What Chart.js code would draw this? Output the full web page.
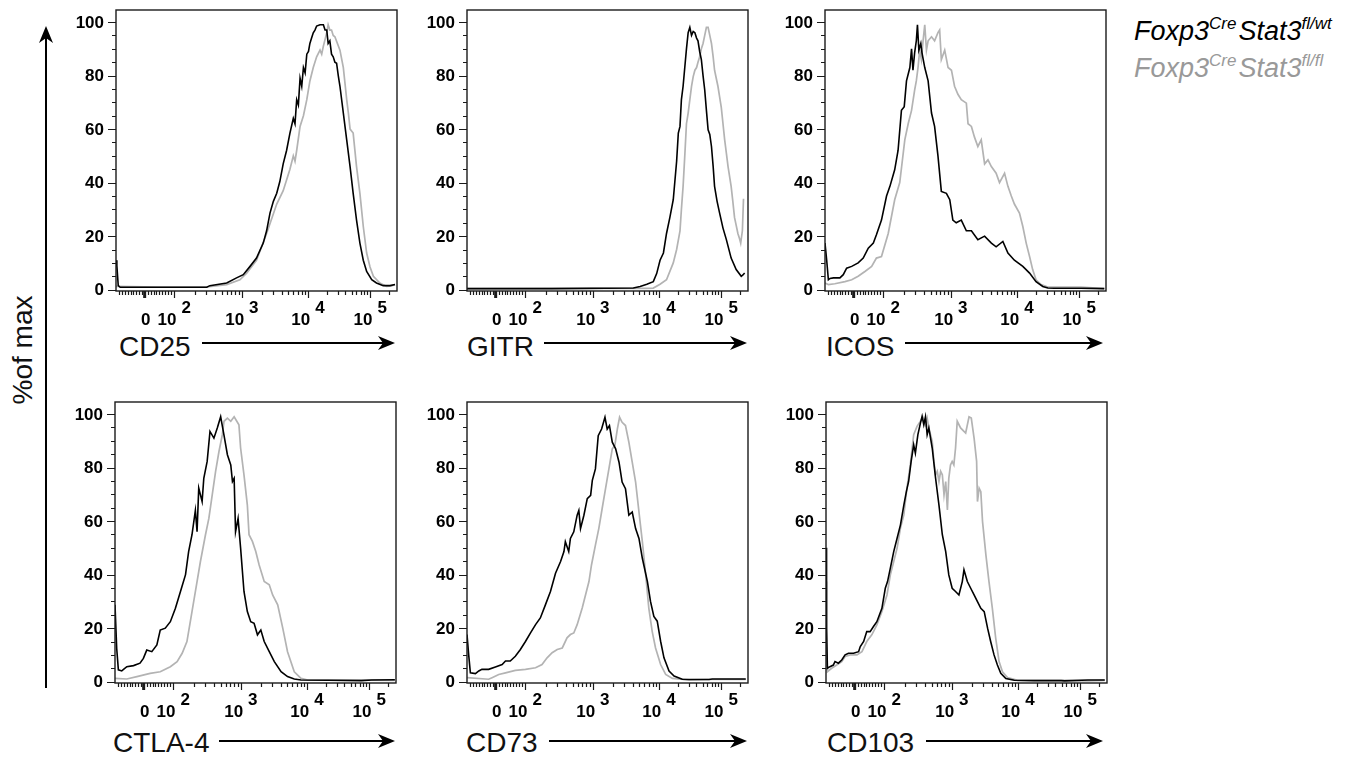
<!DOCTYPE html>
<html>
<head>
<meta charset="utf-8">
<script src="https://cdn.jsdelivr.net/npm/chart.js@4.4.1/dist/chart.umd.min.js"></script>
<style>
  body { margin: 0; background: #fff; width: 1365px; height: 760px; overflow: hidden; position: relative; font-family: "Liberation Sans", Arial, sans-serif; }
  canvas { position: absolute; }
  #overlay { position: absolute; left: 0; top: 0; pointer-events: none; }
</style>
</head>
<body>
<svg id="overlay" width="1365" height="760" xmlns="http://www.w3.org/2000/svg"></svg>
<script>
// x values are display channels (0-1000 across the logicle axis), y is % of max
const markers = ['CD25', 'GITR', 'ICOS', 'CTLA-4', 'CD73', 'CD103'];
const seriesNames = ['Foxp3Cre Stat3fl/wt', 'Foxp3Cre Stat3fl/fl'];
const yTicks = [0, 20, 40, 60, 80, 100];
const xTickChannels = [102, 207, 448, 683, 905];
const xTickBase = ['0', '10', '10', '10', '10'];
const xTickExp = ['', '2', '3', '4', '5'];

const cd25Wt = [[0,11],[3,9],[8,1.5],[15,0.9],[150,0.9],[323,0.9],[334,1.5],[394,2.5],[429,4.4],[453,5.6],[477,8.7],[500,11.8],[524,17.4],[536,22],[548,28.6],[560,33],[572,36],[583,40.4],[595,47],[607,52],[619,58.5],[631,64],[637,62],[643,71],[649,69],[655,79],[661,76],[667,83],[673,81],[679,88],[685,89],[690,92],[696,94],[702,96],[708,97],[714,98.5],[726,99],[738,99],[744,97],[750,97],[755,92],[761,93],[767,88],[773,87],[779,85],[785,84.6],[791,80],[797,76],[809,66],[821,56],[833,46],[844,36],[856,26],[868,17.4],[880,11],[892,6.8],[910,3.7],[927,2.5],[951,1.5],[975,1.5],[993,1.9]];
const cd25Fl = [[0,1.2],[150,1],[323,1],[394,1.9],[441,3.7],[465,6.2],[500,11],[536,21],[572,32],[595,37],[619,45],[631,50],[637,48],[643,52],[655,61],[667,65],[679,71],[690,78],[702,83],[714,87],[726,89.5],[732,88],[738,91],[750,96],[755,99],[761,97],[767,97],[773,95],[779,94.5],[797,89.5],[809,83],[821,71],[827,66],[833,60],[844,58.5],[856,46],[868,36],[880,23.6],[892,13.7],[904,8.5],[916,5],[939,2.5],[963,1.2],[980,1.4],[993,1.9]];

const gitrWt = [[0,0.4],[300,0.4],[592,0.6],[616,1.2],[640,2],[663,3],[675,6],[687,11],[699,13.7],[710,21],[722,27],[734,33.6],[746,48],[752,58.5],[758,61],[763,71],[769,76],[775,83],[781,90],[787,96],[793,98],[799,95],[805,96.5],[811,96],[817,94],[822,93],[828,89],[834,86],[840,80],[846,74.6],[852,67],[858,59.7],[864,58],[870,53.5],[876,46],[881,38.6],[890,33],[899,28.6],[911,23],[923,18.7],[940,11.8],[958,7.5],[976,5],[982,5.5],[988,6.2]];
const gitrFl = [[0,0.4],[345,0.5],[640,0.5],[663,0.6],[687,2],[710,3.7],[734,10],[746,15],[758,22],[763,30],[769,38.6],[775,50],[781,62],[787,66],[793,71],[799,76],[805,79.6],[811,82],[817,83],[822,85],[828,87],[834,90],[840,92],[846,95],[852,98],[858,98],[864,95],[870,92],[876,87],[881,82],[887,79],[893,76],[899,72],[905,68],[911,62],[917,56],[923,51],[929,46],[935,42],[940,38.6],[946,33],[952,27],[958,24],[964,21],[970,19],[974,17.4],[980,22],[984,34]];

const icosWt = [[0,17.4],[6,11],[12,3.7],[18,4.2],[30,4.4],[53,4.4],[65,5.6],[77,8],[95,8.7],[118,10],[136,11.8],[154,15.5],[172,17.4],[183,20.5],[201,26],[219,35],[231,38.6],[248,44.8],[260,52],[272,67],[282,68.4],[290,78],[302,83],[308,90],[313,82],[319,88.6],[325,93],[329,99],[334,89.5],[341,92],[345,88.6],[355,83],[367,78],[379,66],[390,61],[402,50],[414,36.7],[432,36],[444,33.6],[455,26],[467,25],[485,26],[503,22],[521,22],[544,18.7],[568,20],[592,17.4],[609,16],[633,18],[651,13.7],[674,11],[704,8.7],[728,6.2],[751,3],[775,1.2],[793,0.6],[816,0.5],[911,0.5],[994,0.4]];
const icosFl = [[0,2.5],[12,1.9],[35,2.2],[71,3],[95,3.7],[118,5],[142,6.8],[166,8.7],[183,11.8],[201,12.4],[225,21],[248,33.6],[266,40],[284,56],[296,62],[308,67],[319,74.6],[325,78],[331,83],[337,89.5],[343,86],[349,93],[355,99],[361,89.5],[367,93],[379,94.5],[390,93],[402,96],[408,97],[414,86],[426,89.5],[438,83],[450,82],[461,76],[473,73],[485,71],[503,69.7],[509,62],[521,61],[532,57],[544,53.5],[556,56],[568,47],[580,48.5],[592,46],[609,43.5],[621,40],[639,43.5],[651,38.6],[663,35],[674,32],[692,28.6],[704,23.6],[716,17.4],[728,12.4],[739,7.5],[751,3.7],[769,1.9],[793,1],[852,1],[911,1],[994,0.4]];

const ctla4Wt = [[0,28.7],[6,12.5],[12,4.4],[24,4],[42,5.6],[66,6],[89,6.9],[101,8.7],[113,11.8],[131,11.2],[149,13.7],[161,19.3],[179,20],[197,22.4],[215,27.4],[233,33.7],[251,40],[262,48.6],[274,54.9],[286,64],[292,56],[298,72.3],[310,67.3],[316,76],[328,82.3],[338,93.5],[352,91],[364,94.8],[376,99],[388,92],[400,84.8],[412,81],[418,74.8],[424,76],[429,56],[438,61],[447,49.9],[459,33.7],[471,26.2],[483,22.4],[495,21.8],[507,17.5],[519,19.3],[531,15],[549,11.2],[567,7.5],[591,3.7],[614,1.9],[638,1],[662,0.6],[758,0.5],[877,0.4],[913,0.6],[996,0.7]];
const ctla4Fl = [[0,1.2],[42,1],[78,1.9],[125,3.1],[161,3.7],[197,5.6],[221,7.5],[239,10.6],[256,15],[274,26.2],[292,37.4],[304,44.9],[322,54.9],[334,61],[346,69.8],[358,78.6],[370,86],[382,92.3],[388,97.3],[400,98.5],[412,97.3],[424,99],[441,96],[447,87.3],[459,77.3],[471,66],[477,54.9],[489,52.4],[501,48.6],[513,43.6],[531,37.4],[549,36.2],[561,32.4],[579,28.7],[597,20],[614,11.2],[638,3.7],[662,1.2],[686,0.6],[758,0.6],[877,0.6],[996,0.5]];

const cd73Wt = [[0,17.6],[6,10],[12,3.3],[30,3],[42,4],[53,4.6],[77,4.6],[101,5.5],[125,6.4],[137,7.7],[154,7.7],[172,9.5],[190,12],[208,15],[226,18.2],[244,21.3],[261,23.8],[279,28.7],[297,33.7],[315,40.5],[333,44.9],[345,48.6],[350,52.3],[362,48.6],[368,53.5],[380,56],[392,62.2],[398,64],[404,57.2],[416,62.2],[428,68.4],[440,69.6],[446,75.2],[457,79.5],[467,91.9],[479,94.4],[491,98.8],[499,94.4],[507,95.7],[517,89.5],[529,87],[541,82],[552,74.6],[564,72.1],[576,62.2],[588,63.4],[600,57.2],[612,53.5],[624,46.1],[642,37.4],[653,30],[665,24.4],[677,22.6],[689,15.1],[701,8.9],[719,4],[737,2.1],[766,0.9],[790,0.8],[861,0.8],[873,1],[992,1]];
const cd73Fl = [[0,1.5],[77,0.9],[89,1.5],[113,2.7],[137,3.3],[172,4.2],[208,4.6],[244,5.2],[267,6.4],[285,8.9],[303,10.8],[321,12],[339,12.6],[356,16.4],[368,17.6],[380,18.2],[392,21.3],[410,27.5],[422,32.5],[434,37.4],[443,43.6],[457,51],[469,57.2],[481,64.7],[493,72.1],[505,79.5],[517,87],[526,88.2],[535,94.4],[543,98.8],[552,96.9],[564,95.7],[576,89.5],[588,82],[600,74.6],[612,63.4],[624,52.3],[636,39.9],[647,27.5],[659,18.8],[671,12.6],[689,6.4],[707,2.7],[731,1.2],[790,0.7],[849,0.8],[992,0.8]];

const cd103Wt = [[0,50],[2,20],[5,5],[14,5.6],[26,6.2],[32,7.5],[44,6.9],[56,8.1],[68,10],[80,10.6],[98,10.6],[116,11.2],[122,13.1],[134,15],[145,18.7],[157,18.7],[169,20.6],[181,22.4],[199,27.4],[211,34.9],[219,37.4],[229,42.4],[241,48.6],[253,53.6],[265,58.6],[277,66],[286,71],[294,74.8],[303,82.3],[312,88.5],[318,85.4],[327,92.3],[336,96.6],[342,99.1],[348,96],[354,99],[360,92.3],[366,94.8],[378,87.3],[390,76],[402,66],[414,54.9],[426,48.6],[437,39.9],[449,34.9],[461,33.7],[473,32.4],[485,37.4],[491,41.8],[503,37.4],[515,34.9],[527,32.4],[539,29.9],[551,27.4],[563,26.2],[575,20],[586,15],[598,10],[610,6.2],[622,3.1],[640,1.2],[670,0.5],[741,0.4],[837,0.4],[849,0.3],[932,0.6],[992,0.6]];
const cd103Fl = [[0,37.4],[2,15],[5,3.7],[20,5],[38,6.2],[56,7.5],[68,9.4],[86,10],[110,10],[128,11.2],[145,15],[163,17.5],[181,21.2],[199,26.2],[217,32.4],[229,39.9],[241,44.9],[253,49.9],[265,57.4],[277,62.3],[288,72.3],[300,81],[312,92.3],[324,95.4],[336,97.3],[344,99],[354,96],[360,98.5],[366,94.8],[378,89.8],[384,82.3],[390,77.3],[396,78.6],[402,74.8],[408,78.6],[414,77.3],[420,69.8],[426,74.8],[432,64.2],[437,76],[443,81],[449,82.3],[455,81],[461,87.3],[467,97.3],[479,94.8],[491,93.5],[497,92.9],[509,99],[517,98.5],[527,91],[536,82.3],[539,67.3],[545,72.3],[551,71],[557,59.9],[569,47.4],[580,37.4],[592,27.4],[604,16.2],[616,7.5],[628,3.7],[646,1.5],[682,0.5],[741,0.5],[849,0.5],[932,0.3],[992,0.5]];

const panelData = [[cd25Wt, cd25Fl], [gitrWt, gitrFl], [icosWt, icosFl], [ctla4Wt, ctla4Fl], [cd73Wt, cd73Fl], [cd103Wt, cd103Fl]];

// page layout (plot area top-left corners, title and arrow placement)
const plotSize = 281;
const panelPos = [[116, 10], [467, 10], [825, 10], [115, 402], [467, 402], [826, 402]];
const titlePos = [[119, 356, 202, 395, 343], [467, 356, 544, 747, 343], [826, 356, 905, 1103, 343],
                  [113, 752, 219, 395, 741], [466, 752, 549, 747, 741], [827, 752, 926, 1103, 741]];

const FONT = '"Liberation Sans", Arial, Helvetica, sans-serif';
const BLACK = '#000000';
const GREY = '#b3b3b3';

function minorChannels() {
  const c = xTickChannels;
  const out = [];
  for (let k = 1; k <= 9; k++) out.push(c[0] - 10 * k);
  for (let k = 1; k <= 9; k++) out.push(c[0] + k * (c[1] - c[0]) / 10);
  for (let d = 1; d < c.length; d++) {
    const span = d < c.length - 1 ? c[d + 1] - c[d] : c[d] - c[d - 1];
    for (let k = 2; k <= 9; k++) {
      const v = c[d] + Math.log10(k) * span;
      if (v < 1000) out.push(v);
    }
  }
  return out;
}
const xMinor = minorChannels();

const flowAxes = {
  id: 'flowAxes',
  afterDraw(chart) {
    const { ctx, chartArea: a, scales: { x, y } } = chart;
    ctx.save();
    ctx.strokeStyle = '#1a1a1a';
    ctx.lineWidth = 1.4;
    ctx.strokeRect(a.left, a.top, a.right - a.left, a.bottom - a.top);

    ctx.lineWidth = 1.2;
    ctx.beginPath();
    for (let v = 0; v <= 100; v += 5) {
      const py = Math.round(y.getPixelForValue(v)) + 0.5;
      const len = v % 20 === 0 ? 8 : 4;
      ctx.moveTo(a.left - len, py);
      ctx.lineTo(a.left, py);
    }
    xMinor.forEach(v => {
      const px = Math.round(x.getPixelForValue(v)) + 0.5;
      ctx.moveTo(px, a.bottom);
      ctx.lineTo(px, a.bottom + 4);
    });
    xTickChannels.forEach((v, i) => {
      if (i === 0) return;
      const px = Math.round(x.getPixelForValue(v)) + 0.5;
      ctx.moveTo(px, a.bottom);
      ctx.lineTo(px, a.bottom + 7);
    });
    ctx.stroke();
    // zero tick is drawn heavier
    const z = x.getPixelForValue(xTickChannels[0]);
    ctx.lineWidth = 3;
    ctx.beginPath();
    ctx.moveTo(z, a.bottom);
    ctx.lineTo(z, a.bottom + 7);
    ctx.stroke();

    ctx.fillStyle = '#000';
    ctx.font = 'bold 17px ' + FONT;
    ctx.textAlign = 'right';
    ctx.textBaseline = 'middle';
    yTicks.forEach(v => ctx.fillText(String(v), a.left - 12, y.getPixelForValue(v) + 1));

    ctx.textAlign = 'left';
    ctx.textBaseline = 'alphabetic';
    xTickChannels.forEach((v, i) => {
      const px = x.getPixelForValue(v);
      const w1 = ctx.measureText(xTickBase[i]).width;
      const w2 = xTickExp[i] ? ctx.measureText(xTickExp[i]).width + 5 : 0;
      const start = px - (w1 + w2) / 2 + (xTickExp[i] ? 0 : 1);
      ctx.fillText(xTickBase[i], start, a.bottom + 34);
      if (xTickExp[i]) ctx.fillText(xTickExp[i], start + w1 + 5, a.bottom + 22);
    });
    ctx.restore();
  }
};

const pad = { left: 60, top: 10, right: 9, bottom: 49 };

panelData.forEach(([wt, fl], i) => {
  const cv = document.createElement('canvas');
  const w = pad.left + plotSize + pad.right;
  const h = pad.top + plotSize + pad.bottom;
  cv.width = w; cv.height = h;
  cv.style.left = (panelPos[i][0] - pad.left) + 'px';
  cv.style.top = (panelPos[i][1] - pad.top) + 'px';
  document.body.appendChild(cv);
  const toPts = arr => arr.map(([x, y]) => ({ x, y }));
  new Chart(cv, {
    type: 'line',
    data: {
      datasets: [
        { label: seriesNames[0], data: toPts(wt), borderColor: BLACK, borderWidth: 1.6, pointRadius: 0, tension: 0, order: 0 },
        { label: seriesNames[1], data: toPts(fl), borderColor: GREY, borderWidth: 1.7, pointRadius: 0, tension: 0, order: 1 }
      ]
    },
    options: {
      responsive: false,
      animation: false,
      events: [],
      layout: { padding: pad },
      plugins: { legend: { display: false }, tooltip: { enabled: false } },
      scales: {
        x: { type: 'linear', min: 0, max: 1000, display: false },
        y: { min: -0.5, max: 104.5, display: false }
      }
    },
    plugins: [flowAxes]
  });
});

// titles, arrows and legend as svg text
const NS = 'http://www.w3.org/2000/svg';
const svg = document.getElementById('overlay');
function el(tag, attrs, text) {
  const e = document.createElementNS(NS, tag);
  for (const k in attrs) e.setAttribute(k, attrs[k]);
  if (text !== undefined) e.textContent = text;
  svg.appendChild(e);
  return e;
}
function arrow(x1, y1, x2, y2) {
  const ang = Math.atan2(y2 - y1, x2 - x1);
  const L = 17, H = 7, N = 12;
  const bx = x2 - L * Math.cos(ang), by = y2 - L * Math.sin(ang);
  const nx = x2 - N * Math.cos(ang), ny = y2 - N * Math.sin(ang);
  const px = -Math.sin(ang) * H, py = Math.cos(ang) * H;
  el('line', { x1, y1, x2: nx, y2: ny, stroke: '#000', 'stroke-width': 2 });
  el('path', { d: `M${x2},${y2} L${bx + px},${by + py} L${nx},${ny} L${bx - px},${by - py} Z`, fill: '#000' });
}
markers.forEach((m, i) => {
  const [tx, ty, ax1, ax2, ay] = titlePos[i];
  el('text', { x: tx, y: ty, 'font-family': FONT, 'font-size': 28, fill: '#111' }, m);
  arrow(ax1, ay, ax2, ay);
});
el('text', { transform: 'translate(32,350) rotate(-90)', 'text-anchor': 'middle', 'font-family': FONT, 'font-size': 28, fill: '#111' }, '%of max');
arrow(46, 688, 46, 26);

const legendColors = [BLACK, '#999999'];
seriesNames.forEach((name, i) => {
  const [gene1, gene2] = name.split(' ');
  const t = el('text', { x: 1134, y: 40 + i * 37, 'font-family': FONT, 'font-size': 27, 'font-style': 'italic', fill: legendColors[i] });
  const parts = [[gene1.replace('Cre', ''), 0, 27], ['Cre', -11, 17], [gene2.replace(/fl\/.*/, ''), 11, 27], [gene2.slice(5), -11, 17]];
  parts.forEach(([s, dy, fs], j) => {
    const sp = document.createElementNS(NS, 'tspan');
    sp.setAttribute('dy', dy);
    sp.setAttribute('font-size', fs);
    if (j === 2) sp.setAttribute('dx', 2);
    sp.textContent = s;
    t.appendChild(sp);
  });
});
</script>
</body>
</html>
